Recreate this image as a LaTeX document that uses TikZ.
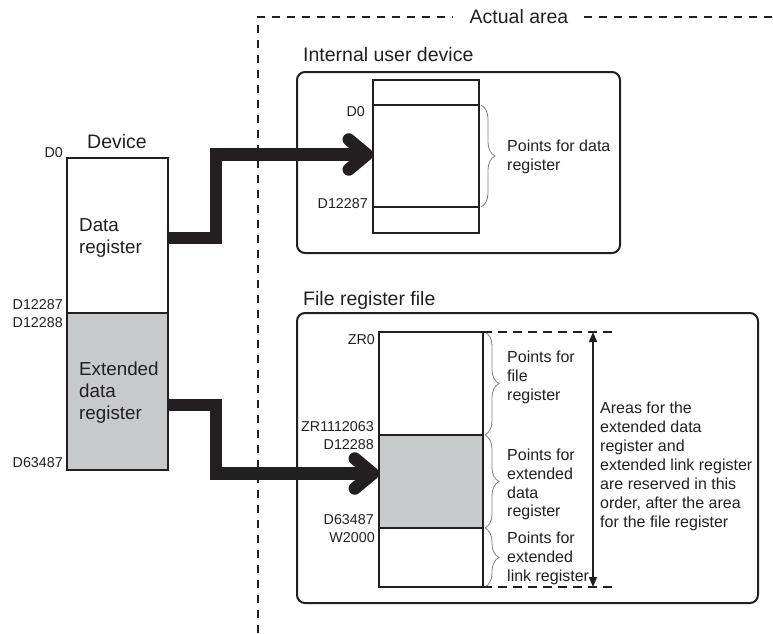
\documentclass[tikz,border=0pt]{standalone}
\usepackage{fontspec}
\setmainfont{Liberation Sans}
\usetikzlibrary{arrows.meta,decorations.pathreplacing,positioning}
\definecolor{ink}{HTML}{231F20}
\definecolor{regfill}{HTML}{C8C9CB}

\begin{document}
\begin{tikzpicture}[
        x=1pt, y=-1pt,
        col/.style={draw=ink, line width=2pt, inner sep=0pt, outer sep=0pt},
        devcol/.style={col, minimum width=101pt},
        iucol/.style={col, minimum width=106pt},
        frcol/.style={col, minimum width=104pt},
        areabox/.style={draw=ink, line width=2pt, rounded corners=8pt, inner sep=0pt},
        title/.style={font=\fontsize{19.5pt}{23pt}\selectfont, text=ink, inner sep=0pt},
        regtext/.style={font=\fontsize{18.8pt}{22pt}\selectfont, text=ink, align=left,
                        inner sep=0pt, anchor=west},
        addr/.style={font=\fontsize{14.3pt}{17pt}\selectfont, text=ink, inner sep=0pt, anchor=east},
        note/.style={font=\fontsize{16pt}{18.9pt}\selectfont, text=ink, align=left,
                     inner sep=0pt, anchor=west},
        ptsbrace/.style={draw=gray, line width=0.8pt, decorate, decoration={brace, amplitude=14pt}},
        areaedge/.style={draw=ink, line width=1.3pt, dash pattern=on 8pt off 7pt},
        limit/.style={draw=ink, line width=1.2pt, dash pattern=on 9pt off 6pt},
        spanarr/.style={draw=ink, line width=1.4pt,
                        {Triangle[length=10pt,width=8pt]}-{Triangle[length=10pt,width=8pt]}},
        bigarr/.style={draw=ink, line width=12.5pt, -{Straight Barb[round, length=18pt, width=30pt]}},
    ]
        \useasboundingbox (0,0) rectangle (773,633);

        % Actual area frame
        \node[title] (actual) at (519,17) {Actual area};
        \draw[areaedge] (258,633) -- (258,17) -- ([xshift=-16pt]actual.west);
        \draw[areaedge] ([xshift=15pt]actual.east) -- (773,17);

        % Device column
        \node[title] (devtitle) at (117,142) {Device};
        \node[devcol, minimum height=155pt] (datareg) at (117.5,235.5) {};
        \node[devcol, minimum height=157pt, fill=regfill] (extreg) at (117.5,391.5) {};
        \node[regtext] (datatext) at (79,238) {Data\\register};
        \node[regtext] (exttext)  at (79,393) {Extended\\data\\register};
        \node[addr] (devd0)    at (63,153) {D0};
        \node[addr] (devd122a) at (63,305) {D12287};
        \node[addr] (devd122b) at (63,323) {D12288};
        \node[addr] (devd634)  at (63,463) {D63487};

        % Internal user device
        \node[title, anchor=west] (iutitle) at (303,55) {Internal user device};
        \node[areabox, minimum width=323pt, minimum height=181pt] (iubox) at (458.5,162.5) {};
        \node[iucol, minimum height=25pt]  (iutop) at (426,92.5) {};
        \node[iucol, minimum height=102pt] (iumid) at (426,156) {};
        \node[iucol, minimum height=26pt]  (iubot) at (426,220) {};
        \node[addr] (iud0)   at (365,112) {D0};
        \node[addr] (iud122) at (368,204) {D12287};
        \draw[ptsbrace] ([xshift=2pt]iumid.north east) -- ([xshift=2pt]iumid.south east);
        \node[note] (iunote) at (507,157) {Points for data\\register};

        % File register file
        \node[title, anchor=west] (frtitle) at (303,300) {File register file};
        \node[areabox, minimum width=461pt, minimum height=290pt] (frbox) at (527.5,458) {};
        \node[frcol, minimum height=103pt] (frfile) at (431,383.5) {};
        \node[frcol, minimum height=93pt, fill=regfill] (frext) at (431,481.5) {};
        \node[frcol, minimum height=59pt]  (frlink) at (431,557.5) {};
        \node[addr] (frzr0)  at (375,340) {ZR0};
        \node[addr] (frzrn)  at (374,427) {ZR1112063};
        \node[addr] (frd122) at (374,445) {D12288};
        \node[addr] (frd634) at (374,520) {D63487};
        \node[addr] (frw200) at (375,538) {W2000};
        \draw[ptsbrace] ([xshift=2pt]frfile.north east) -- ([xshift=2pt]frfile.south east);
        \draw[ptsbrace] ([xshift=2pt]frext.north east) -- ([xshift=2pt]frext.south east);
        \draw[ptsbrace] ([xshift=2pt]frlink.north east) -- ([xshift=2pt]frlink.south east);
        \node[note] (filenote) at (507,377)   {Points for\\file\\register};
        \node[note] (extnote)  at (507,484.5) {Points for\\extended\\data\\register};
        \node[note] (linknote) at (507,558)   {Points for\\extended\\link register};

        % Reserved span
        \coordinate (toplim)  at (612,332);
        \coordinate (botlim)  at (612,587);
        \coordinate (spantop) at (593,332);
        \coordinate (spanbot) at (593,587);
        \draw[limit] (frfile.north east) -- (toplim);
        \draw[limit] (frlink.south east) -- (botlim);
        \draw[spanarr] (spantop) -- (spanbot);
        \node[note] (areatext) at (600,466.5) {Areas for the\\extended data\\register and\\extended link register\\are reserved in this\\order, after the area\\for the file register};

        % Mapping arrows
        \draw[bigarr] ([yshift=-2.5pt]datareg.east) -- ++(48,0) |- ([yshift=1.5pt]iumid.west);
        \draw[bigarr] ([yshift=-13.5pt]extreg.east) -- ++(48,0) |- ([yshift=8pt]frext.west);
    \end{tikzpicture}
\end{document}
